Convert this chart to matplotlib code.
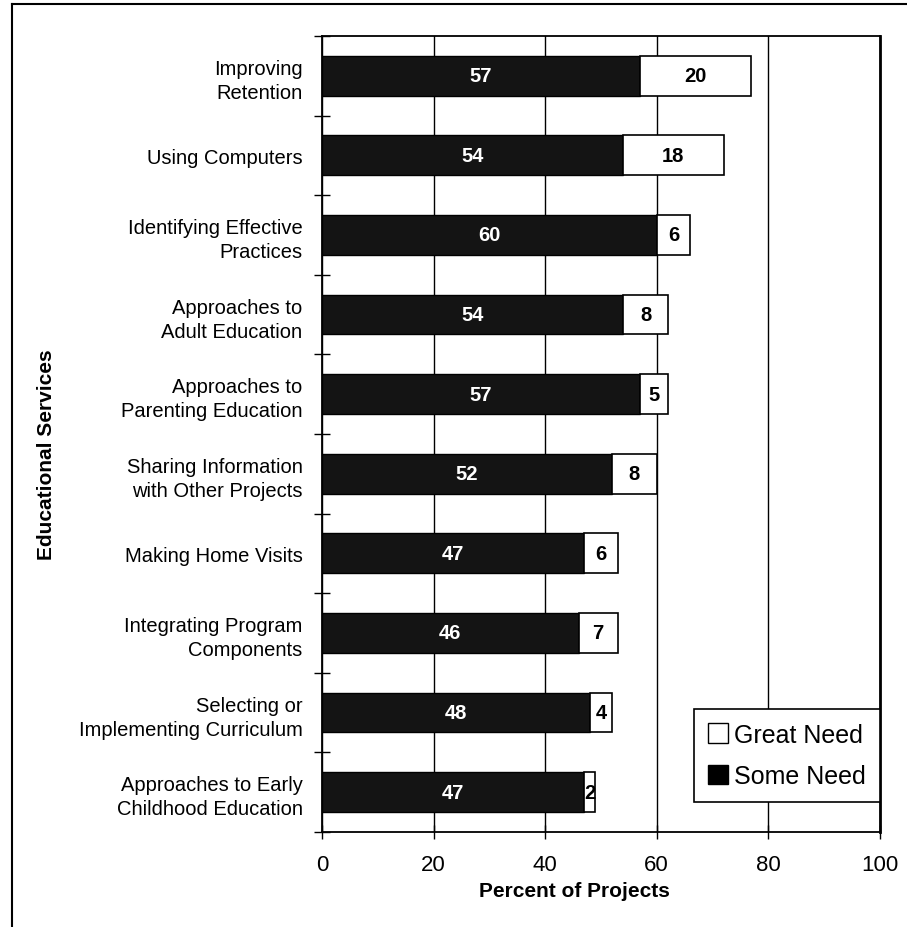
import numpy as np
import matplotlib.pyplot as plt
from matplotlib.lines import Line2D
from matplotlib.patches import Patch

plt.rcParams['font.family'] = ['Liberation Sans', 'DejaVu Sans']

categories = ["Improving\nRetention", "Using Computers",
              "Identifying Effective\nPractices", "Approaches to\nAdult Education",
              "Approaches to\nParenting Education", "Sharing Information\nwith Other Projects",
              "Making Home Visits", "Integrating Program\nComponents",
              "Selecting or\nImplementing Curriculum", "Approaches to Early\nChildhood Education"]
some_need = [57, 54, 60, 54, 57, 52, 47, 46, 48, 47]
great_need = [20, 18, 6, 8, 5, 8, 6, 7, 4, 2]
x_ticks = [0, 20, 40, 60, 80, 100]

fig = plt.figure(figsize=(9.07, 9.28), dpi=100)
ax = fig.add_axes([0.355, 0.1024, 0.615, 0.8578])

y = np.arange(len(categories))
ax.barh(y, some_need, height=0.5, color='#141414', edgecolor='black', linewidth=1, zorder=3)
ax.barh(y, great_need, left=some_need, height=0.5, color='white', edgecolor='black',
        linewidth=1.2, zorder=3)

for yi, s, g in zip(y, some_need, great_need):
    ax.text(s / 2, yi, str(s), color='white', fontsize=14.5, fontweight='bold',
            ha='center', va='center', zorder=4)
    ax.text(s + g / 2, yi, str(g), color='black', fontsize=14.5, fontweight='bold',
            ha='center', va='center', zorder=4)

ax.set_xlim(0, 100)
ax.set_ylim(len(categories) - 0.5, -0.5)
ax.set_xticks(x_ticks)
ax.set_xticklabels([str(t) for t in x_ticks], fontsize=16)
ax.set_yticks(y)
ax.set_yticklabels(categories, fontsize=14.5, ha='right', linespacing=1.35)
ax.set_yticks(np.arange(-0.5, len(categories), 1), minor=True)
ax.tick_params(axis='y', which='major', length=0, pad=14)
ax.tick_params(axis='y', which='minor', direction='inout', length=12, width=1)
ax.tick_params(axis='x', direction='inout', length=10, width=1, pad=11)

ax.grid(axis='x', color='black', linewidth=1, zorder=1)
for side in ['left', 'bottom', 'top']:
    ax.spines[side].set_linewidth(1.3)
ax.spines['right'].set_linewidth(2)

ax.set_xlabel('Percent of Projects', fontsize=15, fontweight='bold')
ax.xaxis.set_label_coords(0.453, -0.061)
ax.set_ylabel('Educational Services', fontsize=15, fontweight='bold')
ax.yaxis.set_label_coords(-0.476, 0.475)

handles = [Patch(facecolor='white', edgecolor='black', label='Great Need'),
           Patch(facecolor='black', edgecolor='black', label='Some Need')]
leg = ax.legend(handles=handles, loc='lower right', bbox_to_anchor=(1.0, 0.0377),
                borderaxespad=0, fontsize=18, fancybox=False, framealpha=1,
                handlelength=0.8, handleheight=0.8, handletextpad=0.25,
                borderpad=0.55, labelspacing=0.7)
leg.get_frame().set_edgecolor('black')
leg.get_frame().set_linewidth(1.2)
leg.set_zorder(5)

# scanned page frame
fig.add_artist(Line2D([0.0132, 0.0132], [0, 0.9946], color='black', linewidth=1.5))
fig.add_artist(Line2D([0.0132, 1], [0.9946, 0.9946], color='black', linewidth=1.5))

fig.savefig('out.png', dpi=100)
